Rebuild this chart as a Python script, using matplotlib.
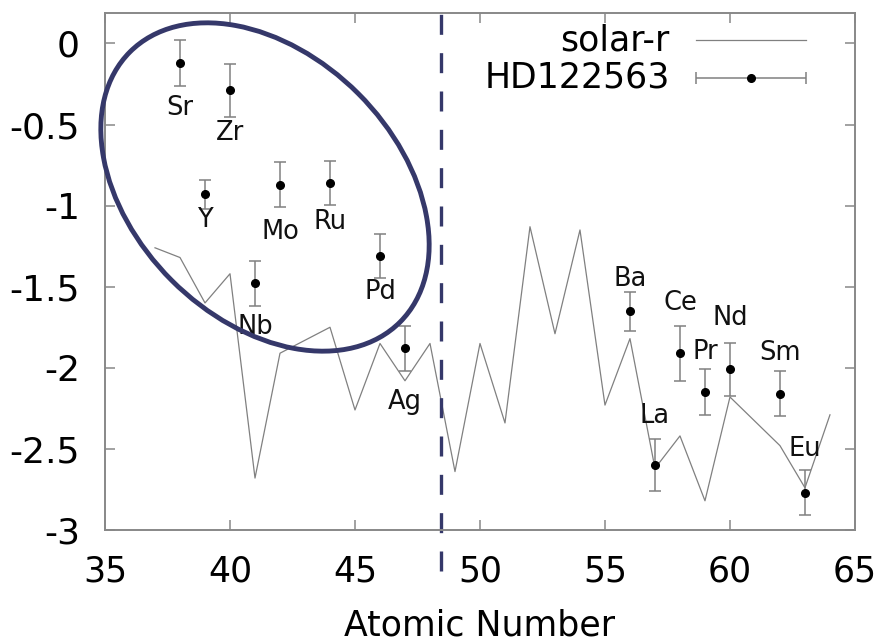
import matplotlib
matplotlib.use("Agg")
import matplotlib.pyplot as plt
from matplotlib.patches import Ellipse
from matplotlib.transforms import IdentityTransform, blended_transform_factory

plt.rcParams['font.family'] = ['DejaVu Sans']

# solar r-process pattern (no Tc, no Pm)
solar_z = [37, 38, 39, 40, 41, 42, 44, 45, 46, 47, 48, 49, 50, 51, 52, 53, 54,
           55, 56, 57, 58, 59, 60, 62, 63, 64]
solar_y = [-1.26, -1.32, -1.60, -1.42, -2.68, -1.91, -1.75, -2.26, -1.85, -2.08,
           -1.85, -2.64, -1.85, -2.34, -1.13, -1.79, -1.15, -2.23, -1.82, -2.62,
           -2.42, -2.82, -2.18, -2.48, -2.74, -2.29]

# HD122563 abundances
elements = ['Sr', 'Y', 'Zr', 'Nb', 'Mo', 'Ru', 'Pd', 'Ag',
            'Ba', 'La', 'Ce', 'Pr', 'Nd', 'Sm', 'Eu']
star_z = [38, 39, 40, 41, 42, 44, 46, 47, 56, 57, 58, 59, 60, 62, 63]
star_y = [-0.12, -0.93, -0.29, -1.48, -0.87, -0.86, -1.31, -1.88,
          -1.65, -2.60, -1.91, -2.15, -2.01, -2.16, -2.77]
star_err = [0.14, 0.09, 0.165, 0.14, 0.14, 0.137, 0.135, 0.14,
            0.12, 0.16, 0.17, 0.14, 0.165, 0.14, 0.14]

# label anchors (atomic number, value)
label_z = [38, 39, 40, 41, 42, 44, 46, 47, 56, 57, 58, 59, 60, 62, 63]
label_y = [-0.40, -1.09, -0.555, -1.75, -1.16, -1.10, -1.53, -2.21,
           -1.45, -2.30, -1.60, -1.90, -1.695, -1.91, -2.50]

navy = '#35386a'
grey = '#808080'

fig = plt.figure(figsize=(8.96, 6.42), dpi=100)
ax = fig.add_axes([0.1172, 0.1745, 0.837, 0.8058])

ax.plot(solar_z, solar_y, color=grey, lw=0.9)
ax.errorbar(star_z, star_y, yerr=star_err, fmt='o', color='black', ms=5.5,
            ecolor=grey, elinewidth=1.1, capsize=4, capthick=1.1)

for name, z, y in zip(elements, label_z, label_y):
    ax.text(z, y, name, fontsize=18.5, ha='center', va='center', color='#111111')

ax.set_xlim(35, 65)
ax.set_ylim(-3, 0.19)
ax.set_xticks([35, 40, 45, 50, 55, 60, 65])
ax.set_yticks([0, -0.5, -1, -1.5, -2, -2.5, -3])
ax.set_yticklabels(['0', '-0.5', '-1', '-1.5', '-2', '-2.5', '-3'])
ax.tick_params(direction='in', length=7, width=1.1, color='#888888',
               labelsize=25, top=True, right=True)
ax.tick_params(axis='x', pad=18)
ax.tick_params(axis='y', pad=18, labelsize=26)
for s in ax.spines.values():
    s.set_color('#888888')
    s.set_linewidth(1.4)
ax.set_xlabel('Atomic Number', fontsize=25, labelpad=14)

# legend drawn by hand (gnuplot style: text then sample)
ax.text(0.7533, 0.947, 'solar-r', transform=ax.transAxes, fontsize=25,
        ha='right', va='center')
ax.text(0.7533, 0.874, 'HD122563', transform=ax.transAxes, fontsize=25,
        ha='right', va='center')
ax.plot([0.788, 0.9347], [0.947, 0.947], transform=ax.transAxes, color=grey, lw=0.9)
ax.errorbar([0.861], [0.874], xerr=[0.0733], fmt='o', color='black', ms=5.5,
            ecolor=grey, elinewidth=1.1, capsize=4, capthick=1.1,
            transform=ax.transAxes)

# dashed separator and highlight ellipse
trans = blended_transform_factory(ax.transData, ax.transAxes)
ax.plot([48.43, 48.43], [-0.08, 1.03], transform=trans, color=navy, lw=2.4,
        dashes=(6, 5.5), clip_on=False)
ell = Ellipse((265, 642 - 187), width=382, height=264, angle=-45,
              transform=IdentityTransform(), fill=False, ec=navy, lw=3.5)
fig.add_artist(ell)

fig.savefig('out.png', dpi=100)
